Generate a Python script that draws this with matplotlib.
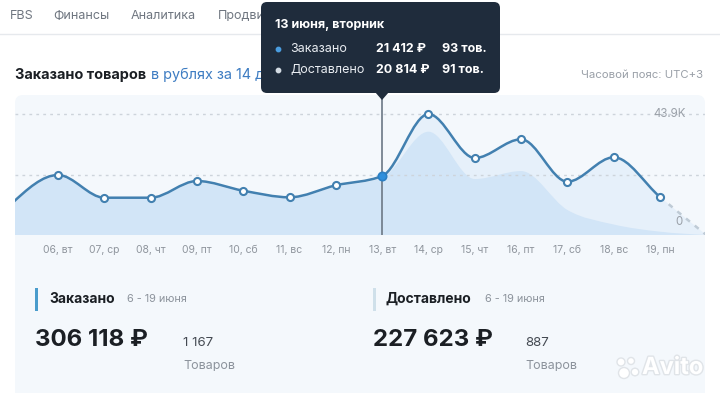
import numpy as np
import matplotlib
matplotlib.use("Agg")
import matplotlib.pyplot as plt
from matplotlib.path import Path
from matplotlib.patches import PathPatch, FancyBboxPatch, Polygon, Rectangle, Circle
import matplotlib.patheffects as pe

plt.rcParams['font.family'] = ['Inter', 'DejaVu Sans']

# data (rubles per day, June)
days = [5, 6, 7, 8, 9, 10, 11, 12, 13, 14, 15, 16, 17, 18, 19, 20]
ordered = [11400, 21770, 13530, 13530, 19590, 16070, 13680, 18030, 21412,
           43880, 27940, 34720, 19340, 28190, 13790, 0]
delivered = [11100, 21150, 13150, 13150, 19000, 15600, 13300, 17500, 20814,
             37480, 20300, 23200, 9070, 3810, 1200, 0]
tick_days = days[1:15]
tick_labels = ["06, вт", "07, ср", "08, чт", "09, пт", "10, сб", "11, вс", "12, пн",
               "13, вт", "14, ср", "15, чт", "16, пт", "17, сб", "18, вс", "19, пн"]
y_max_label = 43900
selected_day = 13

nav_items = [("FBS", 10), ("Финансы", 53), ("Аналитика", 131), ("Продвижение", 218)]

LINE = "#4280b0"
FILL_ORD = "#e6f0fa"
FILL_DEL = "#d2e5f7"
PANEL = "#f4f8fc"
GRAY = "#8c939c"
DARK = "#1b1f24"


def d3sign(v):
    return -1.0 if v < 0 else 1.0


def monotone_segments(xs, ys):
    # control points like d3.curveMonotoneX
    xs = np.asarray(xs, float)
    ys = np.asarray(ys, float)
    n = len(xs)
    h = np.diff(xs)
    s = np.diff(ys) / h
    t = np.zeros(n)
    for i in range(1, n - 1):
        p = (s[i - 1] * h[i] + s[i] * h[i - 1]) / (h[i - 1] + h[i])
        t[i] = (d3sign(s[i - 1]) + d3sign(s[i])) * min(abs(s[i - 1]), abs(s[i]), 0.5 * abs(p))
    t[0] = (3 * s[0] - t[1]) / 2
    t[-1] = (3 * s[-1] - t[-2]) / 2
    segs = []
    for i in range(n - 1):
        dx = (xs[i + 1] - xs[i]) / 3
        segs.append([(xs[i] + dx, ys[i] + dx * t[i]),
                     (xs[i + 1] - dx, ys[i + 1] - dx * t[i + 1]),
                     (xs[i + 1], ys[i + 1])])
    return segs


def curve_path(xs, ys, segs):
    verts = [(xs[0], ys[0])]
    codes = [Path.MOVETO]
    for seg in segs:
        verts += seg
        codes += [Path.CURVE4] * 3
    return verts, codes


def area_path(xs, ys):
    segs = monotone_segments(xs, ys)
    verts, codes = curve_path(xs, ys, segs)
    verts += [(xs[-1], 0), (xs[0], 0), (xs[0], 0)]
    codes += [Path.LINETO, Path.LINETO, Path.CLOSEPOLY]
    return Path(verts, codes)


fig = plt.figure(figsize=(7.2, 3.93), dpi=100)
fig.patch.set_facecolor("white")

# background layer in pixel coordinates
bg = fig.add_axes([0, 0, 1, 1], zorder=0)
bg.set_xlim(0, 720)
bg.set_ylim(393, 0)
bg.axis("off")

for name, x in nav_items:
    bg.text(x, 16, name, fontsize=9, color="#6f7680", va="center", ha="left")
bg.plot([0, 720], [34, 34], color="#e6e9ed", lw=1)

bg.text(15, 75, "Заказано товаров", fontsize=10.4, fontweight="bold", color=DARK, va="center")
bg.text(151, 75, "в рублях за 14 дней", fontsize=10.4, color="#3d7cc2", va="center")
bg.text(703, 75, "Часовой пояс: UTC+3", fontsize=8.2, color="#9aa0a8", va="center", ha="right")

bg.add_patch(FancyBboxPatch((15, 95), 690, 320, boxstyle="round,pad=0,rounding_size=8",
                            fc=PANEL, ec="none"))

# summary blocks
bg.add_patch(Rectangle((35, 288), 3, 23, fc="#4a9ccc", ec="none"))
bg.text(49, 299, "Заказано", fontsize=10, fontweight="bold", color=DARK, va="center")
bg.text(127, 299, "6 - 19 июня", fontsize=7.8, color=GRAY, va="center")
bg.text(35, 340, "306 118 ₽", fontsize=17.3, fontweight="bold", color=DARK, va="center")
bg.text(183, 343, "1 167", fontsize=9.5, color="#444a52", va="center")
bg.text(183, 366, "Товаров", fontsize=9, color=GRAY, va="center")

bg.add_patch(Rectangle((373, 288), 3, 23, fc="#cfe0ea", ec="none"))
bg.text(386, 299, "Доставлено", fontsize=10, fontweight="bold", color=DARK, va="center")
bg.text(485, 299, "6 - 19 июня", fontsize=7.8, color=GRAY, va="center")
bg.text(373, 340, "227 623 ₽", fontsize=17.3, fontweight="bold", color=DARK, va="center")
bg.text(525, 343, "887", fontsize=9.5, color="#444a52", va="center")
bg.text(525, 366, "Товаров", fontsize=9, color=GRAY, va="center")

# watermark
halo = [pe.withStroke(linewidth=2, foreground="#e0e4e8")]
wm = bg.text(703, 368, "Avito", fontsize=17, fontweight="bold", color="white",
             va="center", ha="right")
wm.set_path_effects(halo)
for cx, cy, r in [(621, 362, 4), (631, 361, 3.5), (624, 373, 5.5), (635, 372, 3.8)]:
    bg.add_patch(Circle((cx, cy), r, fc="white", ec="#e0e4e8", lw=1))

# chart axes: day 5 at x=11.7px, 46.31 px per day; 0 at y=235px
px_day = 46.31
x0_px = 11.7
ax = fig.add_axes([15 / 720, (393 - 235) / 393, 690 / 720, 140 / 393], zorder=1)
ax.set_xlim(5 + (15 - x0_px) / px_day, 5 + (705 - x0_px) / px_day)
ax.set_ylim(0, 140 * y_max_label / 121)
ax.patch.set_alpha(0)
for sp in ax.spines.values():
    sp.set_visible(False)
ax.set_yticks([])
ax.set_xticks(tick_days)
ax.set_xticklabels(tick_labels)
ax.tick_params(axis="x", length=0, pad=7, labelsize=7.5, labelcolor="#8f959d")

ax.add_patch(PathPatch(area_path(days, ordered), fc=FILL_ORD, ec="none", zorder=1))
ax.add_patch(PathPatch(area_path(days, delivered), fc=FILL_DEL, ec="none", zorder=2))

for val in (y_max_label, y_max_label / 2):
    ax.axhline(val, color="#cdd4db", lw=1, ls=(0, (2, 3)), zorder=3)

segs = monotone_segments(days, ordered)
v, c = curve_path(days[:-1], ordered[:-1], segs[:-1])
ax.add_patch(PathPatch(Path(v, c), fill=False, ec=LINE, lw=1.8, zorder=5))
v, c = curve_path(days[-2:], ordered[-2:], segs[-1:])
ax.add_patch(PathPatch(Path(v, c), fill=False, ec="#bfcbd6", lw=1.8, ls=(0, (2, 2.5)), zorder=4))

ax.axvline(selected_day, color="#6c7886", lw=1.2, zorder=4)

pts_x = [d for d in tick_days if d != selected_day]
pts_y = [ordered[days.index(d)] for d in pts_x]
ax.scatter(pts_x, pts_y, s=26, facecolor="white", edgecolor=LINE, linewidth=1.5, zorder=6)
ax.scatter([selected_day], [ordered[days.index(selected_day)]], s=36,
           facecolor="#2f8fdc", edgecolor="#2a7fc4", linewidth=1.2, zorder=7)

ax.text(0.972, 0.865, "43.9K", transform=ax.transAxes, fontsize=8.3, color="#9aa0a8",
        ha="right", va="center")
ax.text(0.968, 0.095, "0", transform=ax.transAxes, fontsize=8.3, color="#9aa0a8",
        ha="right", va="center")

# tooltip layer
top = fig.add_axes([0, 0, 1, 1], zorder=3)
top.set_xlim(0, 720)
top.set_ylim(393, 0)
top.axis("off")
TIP = "#1f2c3c"
top.add_patch(FancyBboxPatch((261, 2), 239, 91, boxstyle="round,pad=0,rounding_size=6",
                             fc=TIP, ec="none"))
top.add_patch(Polygon([(375, 92), (389, 92), (382, 100)], closed=True, fc=TIP, ec="none"))
top.text(275, 25, "13 июня, вторник", fontsize=9, fontweight="bold", color="white", va="center")
rows = [("Заказано", "21 412 ₽", "93 тов.", "#4a9de0", 49),
        ("Доставлено", "20 814 ₽", "91 тов.", "#d3dbe3", 70)]
for name, rub, qty, dot, y in rows:
    top.scatter([278], [y], s=10, color=dot, zorder=5)
    top.text(290, y, name, fontsize=9, color="#e8ecf1", va="center")
    top.text(376, y, rub, fontsize=9, fontweight="bold", color="white", va="center")
    top.text(442, y, qty, fontsize=9, fontweight="bold", color="white", va="center")

fig.savefig("out.png", dpi=100)
